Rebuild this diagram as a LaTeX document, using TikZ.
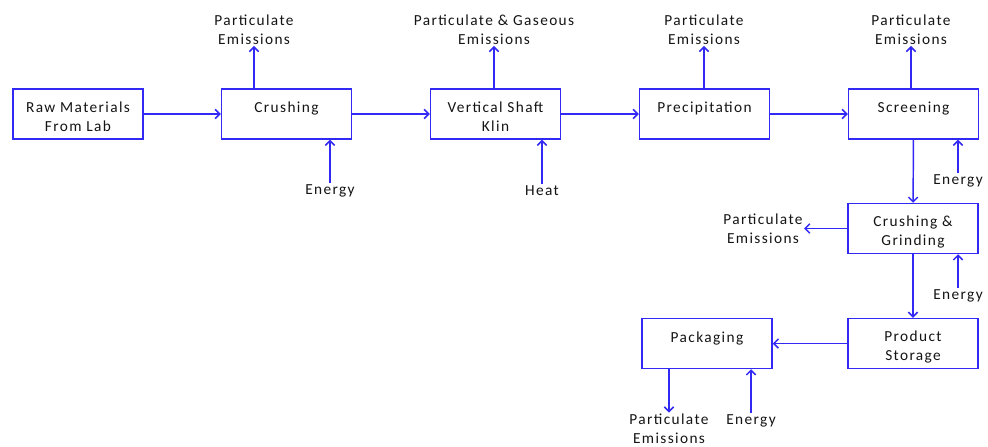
\documentclass[tikz,border=0pt]{standalone}
\usepackage{fontspec}
\setmainfont{Carlito}[LetterSpace=9]
\usetikzlibrary{arrows.meta}
\definecolor{flowblue}{RGB}{51,41,245}
\definecolor{labelgray}{RGB}{20,20,20}
\newcommand{\topstrut}{\rule{0pt}{12.5pt}}
\tikzset{
  unit/.style={draw=flowblue,line width=1.1pt,minimum width=97.5pt,minimum height=37.5pt,align=center,inner sep=0pt},
  lbl/.style={align=center,inner sep=1pt},
  flow/.style={draw=flowblue,line width=1.1pt,-{Straight Barb[length=3.5pt,width=7pt]}},
}
\begin{document}
\begin{tikzpicture}[x=0.75pt,y=-0.75pt,font=\fontsize{11.5}{14.25}\selectfont,text=labelgray]
  \useasboundingbox (0,0) rectangle (988,446);
  % process units
  \node[unit] (raw) at (78,114) {\topstrut Raw Materials\\From Lab};
  \node[unit] (crush) at (286.5,114) {\topstrut Crushing\\\mbox{}};
  \node[unit] (kiln) at (495.5,114) {\topstrut Vertical Shaft\\Klin};
  \node[unit] (prec) at (704.5,114) {\topstrut Precipitation\\\mbox{}};
  \node[unit] (scr) at (913.5,114) {\topstrut Screening\\\mbox{}};
  \node[unit] (grind) at (913,228.5) {\topstrut Crushing \&\\Grinding};
  \node[unit] (store) at (913,343.5) {\topstrut Product\\Storage};
  \node[unit] (pack) at (707,343.5) {\topstrut Packaging\\\mbox{}};
  % emissions and inputs
  \node[lbl] (em1) at (254,29.5) {Particulate\\Emissions};
  \node[lbl] (em2) at (494,29.5) {Particulate \& Gaseous\\Emissions};
  \node[lbl] (em3) at (704,29.5) {Particulate\\Emissions};
  \node[lbl] (em4) at (911,29.5) {Particulate\\Emissions};
  \node[lbl] (em5) at (763,228.5) {Particulate\\Emissions};
  \node[lbl] (em6) at (669,429) {Particulate\\Emissions};
  \node[lbl] (en1) at (330,191) {Energy};
  \node[lbl] (heat) at (542,191) {Heat};
  \node[lbl] (en2) at (958,181) {Energy};
  \node[lbl] (en3) at (958,296) {Energy};
  \node[lbl] (en4) at (751,421) {Energy};
  % main flow
  \draw[flow] (raw) -- (crush);
  \draw[flow] (crush) -- (kiln);
  \draw[flow] (kiln) -- (prec);
  \draw[flow] (prec) -- (scr);
  \draw[flow] (scr) -- (grind);
  \draw[flow] (grind) -- (store);
  \draw[flow] (store) -- (pack);
  % side streams
  \draw[flow] (crush.north -| em1.south) -- (em1.south);
  \draw[flow] (kiln.north -| em2.south) -- (em2.south);
  \draw[flow] (prec.north -| em3.south) -- (em3.south);
  \draw[flow] (scr.north -| em4.south) -- (em4.south);
  \draw[flow] (grind.west) -- (grind.west -| em5.east);
  \draw[flow] (pack.south -| em6.north) -- (em6.north);
  \draw[flow] (en1.north) -- (en1.north |- crush.south);
  \draw[flow] (heat.north) -- (heat.north |- kiln.south);
  \draw[flow] (en2.north) -- (en2.north |- scr.south);
  \draw[flow] (en3.north) -- (en3.north |- grind.south);
  \draw[flow] (en4.north) -- (en4.north |- pack.south);
\end{tikzpicture}
\end{document}
